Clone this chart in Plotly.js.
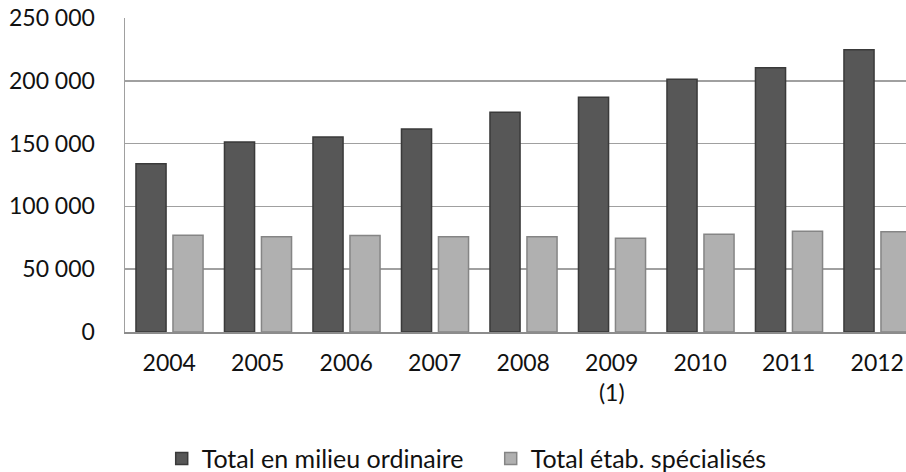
<!DOCTYPE html>
<html>
<head>
<meta charset="utf-8">
<script src="https://cdn.plot.ly/plotly-3.0.1.min.js"></script>
<style>
  html, body { margin: 0; padding: 0; background: #ffffff; }
  #chart { width: 906px; height: 472px; }
</style>
</head>
<body>
<div id="chart"></div>
<script>
// Data
const categories = ["2004", "2005", "2006", "2007", "2008", "2009<br>(1)", "2010", "2011", "2012"];
const milieuOrdinaire = [134000, 151300, 155300, 161700, 174900, 187000, 201300, 210400, 224700];
const etabSpecialises = [77000, 75900, 76900, 75800, 75800, 74700, 77900, 80300, 79800];
const seriesNames = ["Total en milieu ordinaire", "Total étab. spécialisés"];
const yTicks = [0, 50000, 100000, 150000, 200000, 250000];

const FONT = "Lato, Carlito, Calibri, 'Open Sans', sans-serif";

const traces = [
  {
    type: "bar",
    name: seriesNames[0],
    x: categories,
    y: milieuOrdinaire,
    width: 0.34,
    offset: -0.376,
    marker: { color: "#575757", line: { color: "#3a3a3a", width: 1.5 } },
    hoverinfo: "x+y"
  },
  {
    type: "bar",
    name: seriesNames[1],
    x: categories,
    y: etabSpecialises,
    width: 0.34,
    offset: 0.042,
    marker: { color: "#b0b0b0", line: { color: "#858585", width: 1.5 } },
    hoverinfo: "x+y"
  }
];

const layout = {
  width: 906,
  height: 472,
  margin: { l: 125, r: 0, t: 18, b: 140, pad: 0, autoexpand: false },
  paper_bgcolor: "#ffffff",
  plot_bgcolor: "#ffffff",
  font: { family: FONT, size: 23, color: "#111111" },
  separators: ", ",
  barmode: "overlay",
  showlegend: true,
  legend: {
    orientation: "h",
    xref: "paper",
    x: 0.047,
    xanchor: "left",
    yref: "container",
    y: 0.028,
    yanchor: "middle",
    font: { family: FONT, size: 25, color: "#111111" },
    entrywidth: 284,
    entrywidthmode: "pixels",
    traceorder: "normal"
  },
  xaxis: {
    type: "category",
    range: [-0.5, 8.325],
    automargin: false,
    showgrid: false,
    showline: true,
    linecolor: "#8c8c8c",
    linewidth: 1.5,
    ticks: "",
    ticklabelstandoff: 10,
    tickfont: { family: FONT, size: 23, color: "#111111" },
    fixedrange: true
  },
  yaxis: {
    range: [0, 250000],
    automargin: false,
    tickvals: yTicks,
    tickformat: ",d",
    showgrid: true,
    gridcolor: "#a0a0a0",
    gridwidth: 1.5,
    zeroline: false,
    showline: true,
    linecolor: "#a0a0a0",
    linewidth: 1.5,
    ticks: "",
    ticklabelstandoff: 24,
    tickfont: { family: FONT, size: 23, color: "#111111" },
    fixedrange: true
  }
};

Plotly.newPlot("chart", traces, layout, { displayModeBar: false, staticPlot: true });
</script>
</body>
</html>
